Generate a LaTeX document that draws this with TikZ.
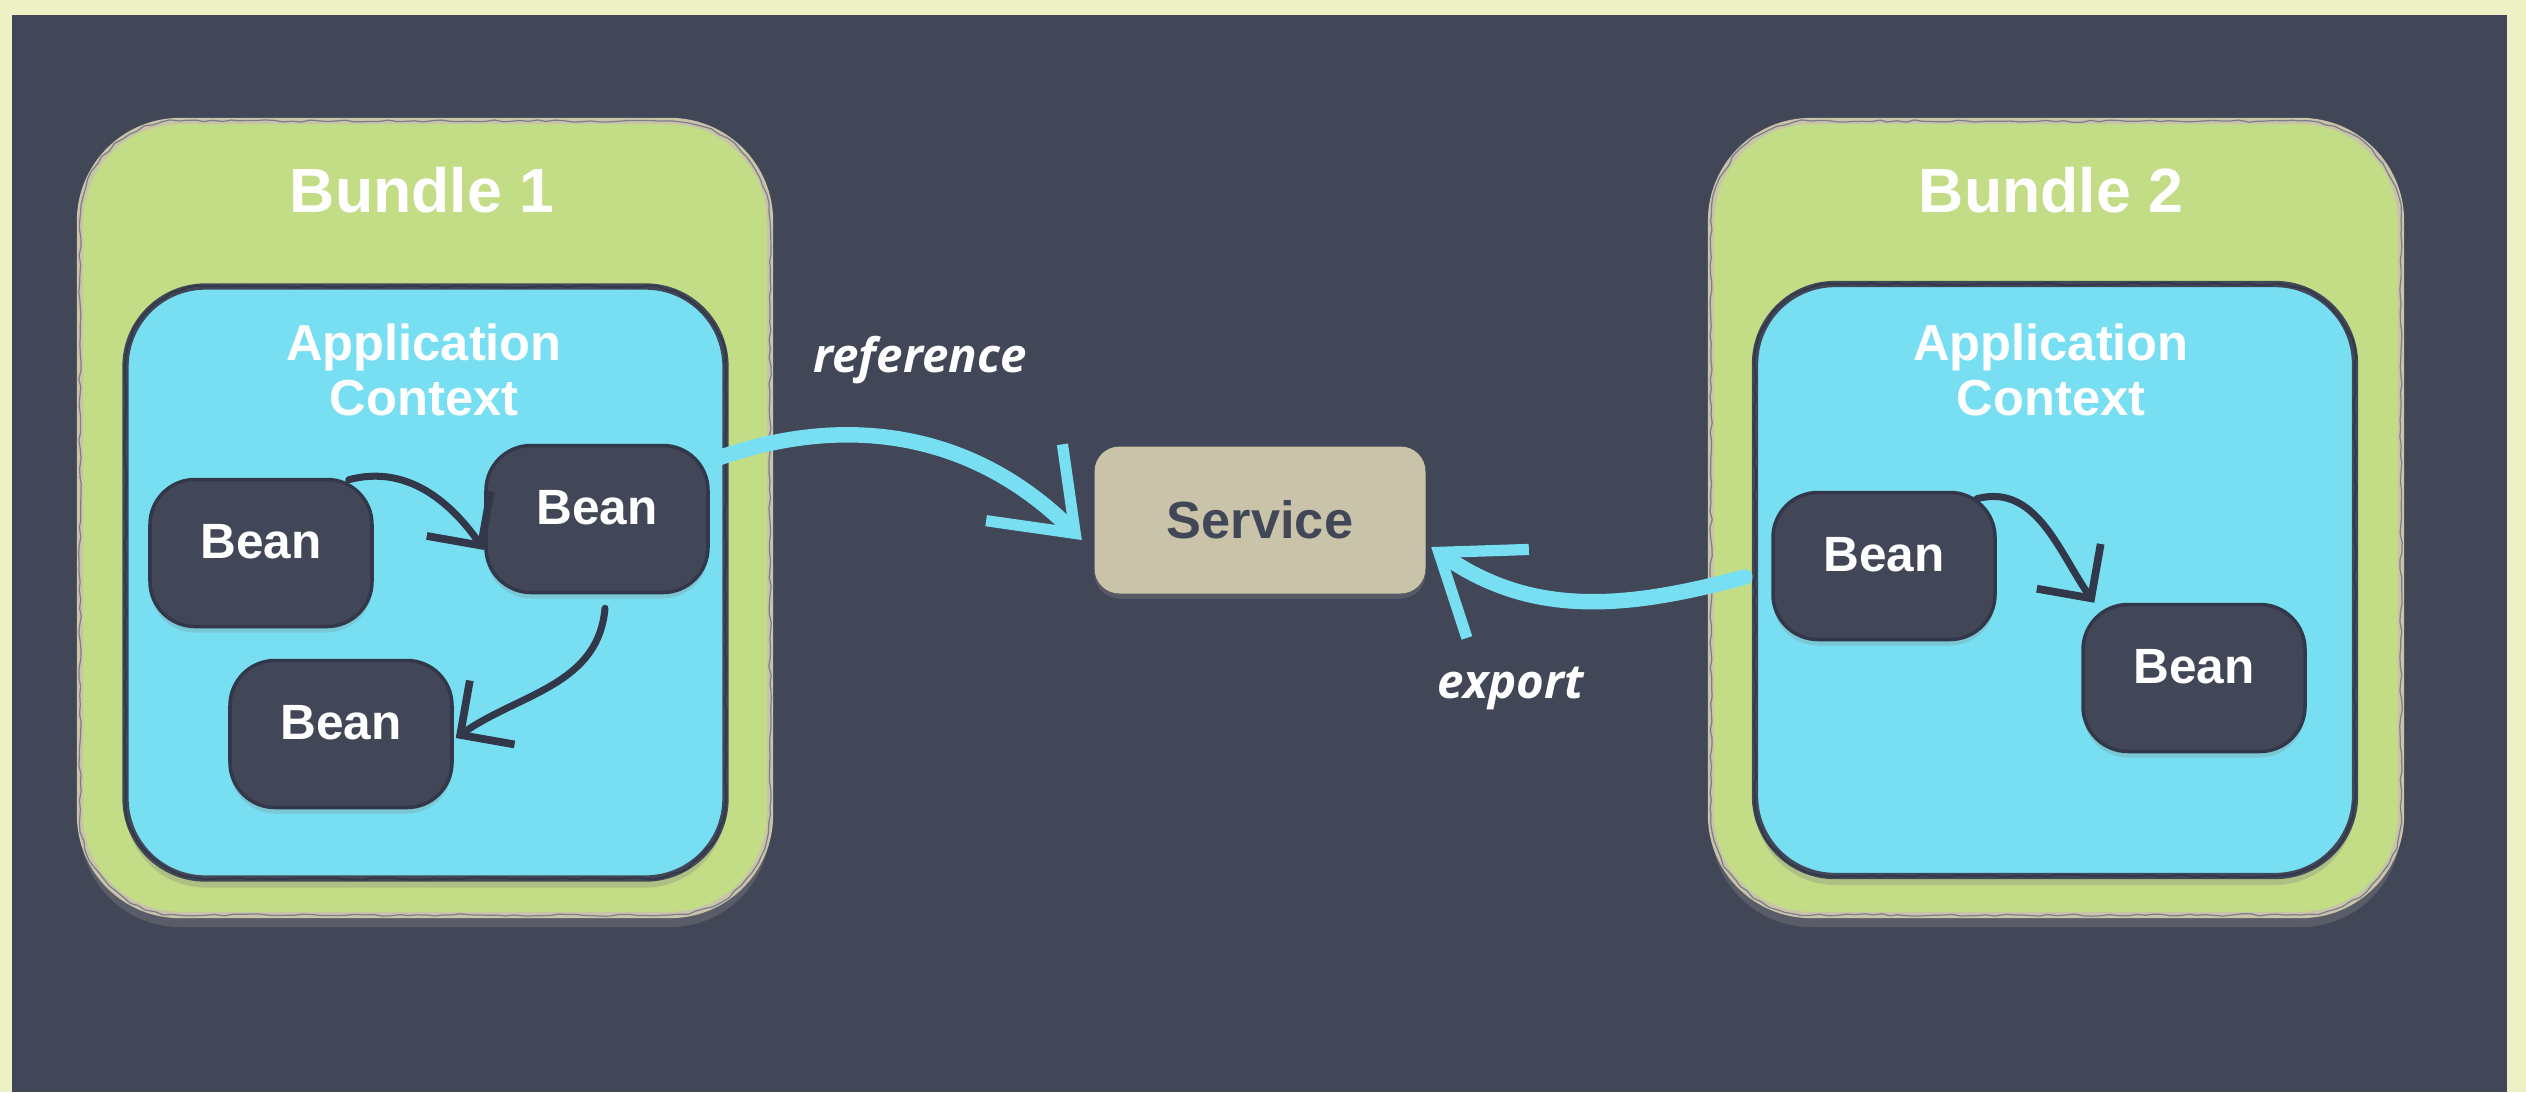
\documentclass[tikz,border=0pt]{standalone}
\usepackage{fontspec}
\setmainfont{Liberation Sans}
\newfontfamily\notefont{Open Sans}
\usetikzlibrary{arrows.meta,shadows,decorations.pathmorphing}

\definecolor{cream}{HTML}{EEF1C6}
\definecolor{slate}{HTML}{424757}
\definecolor{slatedark}{HTML}{33374A}
\definecolor{leaf}{HTML}{C3DC86}
\definecolor{sand}{HTML}{C9C4A9}
\definecolor{sky}{HTML}{78DFF3}

\begin{document}
\begin{tikzpicture}[x=0.1mm,y=-0.1mm]
\pgfmathsetseed{11}

\tikzstyle{rough} = [sharp corners, decorate, decoration={random steps, segment length=2.5pt, amplitude=0.35pt}]
\tikzstyle{bundle} = [rectangle, rounded corners=10mm, minimum width=69mm, minimum height=79.4mm, fill=leaf, draw=sand, line width=1.8pt, drop shadow={shadow xshift=0mm, shadow yshift=-1.2mm, opacity=0.4}, postaction={draw=slate!70, line width=0.35pt, rough}]
\tikzstyle{ctx} = [rectangle, rounded corners=8mm, minimum width=60mm, minimum height=59.2mm, fill=sky, draw=slate, line width=1.8pt, drop shadow={shadow xshift=0mm, shadow yshift=-0.9mm, opacity=0.3}, postaction={draw=slatedark, line width=0.5pt, rough}]
\tikzstyle{bean} = [rectangle, rounded corners=4.5mm, minimum width=22.2mm, minimum height=14.7mm, fill=slate, draw=slatedark, line width=1pt, text=white, text depth=2.4mm, font=\bfseries\fontsize{14.1}{16}\selectfont, drop shadow={shadow xshift=0mm, shadow yshift=-0.6mm, opacity=0.25}]
\tikzstyle{service} = [rectangle, rounded corners=2.5mm, minimum width=33.1mm, minimum height=14.7mm, fill=sand, text=slate, font=\bfseries\fontsize{14.9}{17}\selectfont, drop shadow={shadow xshift=0mm, shadow yshift=-0.5mm, opacity=0.35}]
\tikzstyle{title} = [text=white, font=\bfseries\fontsize{17.8}{20}\selectfont]
\tikzstyle{ctxlabel} = [text=white, align=center, font=\bfseries\fontsize{14.4}{15.6}\selectfont]
\tikzstyle{note} = [text=white, font=\notefont\bfseries\itshape\fontsize{13.5}{16}\selectfont]
\tikzstyle{beanarrow} = [draw=slatedark, line width=2pt, line cap=round, -{Straight Barb[length=3.9mm, width=7.8mm, line width=2.2pt]}]
\tikzstyle{linkarrow} = [draw=sky, line width=4.4pt, line cap=round, -{Straight Barb[length=7.2mm, width=10.8mm, line width=3.2pt]}]

\useasboundingbox (0,0) rectangle (2526,1092);
\fill[cream] (0,0) rectangle (2526,1092);
\fill[slate] (12,15) rectangle (2507,1092);

% first bundle
\node (bundleone) at (425,518) [bundle] {};
\node (bundleonetitle) at (422,190) [title] {Bundle 1};
\node (ctxone) at (425.5,582.5) [ctx] {};
\node (ctxonetitle) at (424,370) [ctxlabel] {Application\\Context};
\node (beana) at (261,553) [bean] {Bean};
\node (beanb) at (597,519) [bean] {Bean};
\node (beanc) at (341,734) [bean] {Bean};

% second bundle
\node (bundletwo) at (2056,518) [bundle] {};
\node (bundletwotitle) at (2051,190) [title] {Bundle 2};
\node (ctxtwo) at (2055,580) [ctx] {};
\node (ctxtwotitle) at (2051,370) [ctxlabel] {Application\\Context};
\node (beand) at (1884,566) [bean] {Bean};
\node (beane) at (2194,678) [bean] {Bean};

\node (srv) at (1260,520) [service] {Service};
\node (reflbl) at (920,360) [note] {reference};
\node (explbl) at (1511,688) [note] {export};

\draw[beanarrow] ([xshift=-2.5mm,yshift=-0.2mm]beana.north east) to[out=15,in=125] ([yshift=-3.1mm]beanb.west);
\draw[beanarrow] ([xshift=0.8mm,yshift=-1.4mm]beanb.south) to[out=-95,in=35] ([xshift=0.2mm,yshift=-0.4mm]beanc.east);
\draw[beanarrow] ([xshift=-2mm,yshift=-0.8mm]beand.north east) to[out=15,in=125] ([xshift=1.3mm]beane.north west);

\draw[linkarrow] ([xshift=-1.6mm]ctxone.22) to[out=20,in=135] ([xshift=-1.2mm,yshift=-2mm]srv.west);
\draw[linkarrow] ([xshift=-0.7mm,yshift=0.3mm]ctxtwo.west) to[out=195,in=-35] ([xshift=0.5mm,yshift=-2.7mm]srv.east);
\end{tikzpicture}
\end{document}
